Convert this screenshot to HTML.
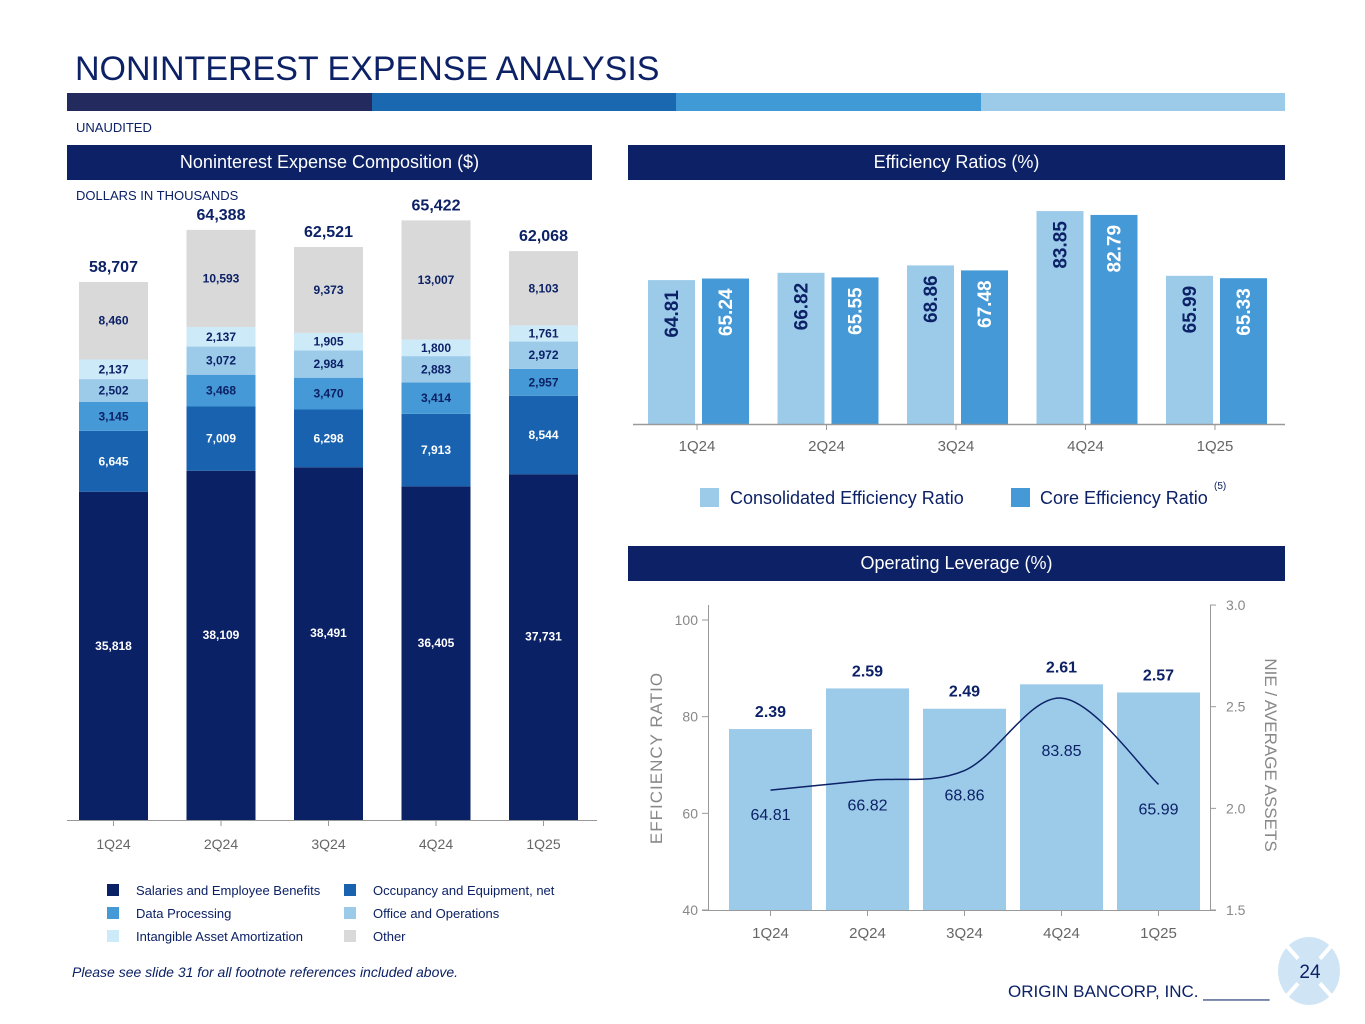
<!DOCTYPE html>
<html><head><meta charset="utf-8">
<style>
body{margin:0;width:1365px;height:1024px;background:#fff;font-family:"Liberation Sans",Arial,sans-serif;overflow:hidden;position:relative}
.abs{position:absolute}
.hdr{position:absolute;height:35px;background:#0c2166;color:#fff;font-size:18px;line-height:35px;text-align:center}
</style></head><body>
<div class="abs" style="left:75px;top:50px;font-size:34px;color:#0c2166">NONINTEREST EXPENSE ANALYSIS</div>
<div class="abs" style="left:67px;top:93px;width:1218px;height:18px;display:flex">
<div style="flex:1;background:#232a5e"></div><div style="flex:1;background:#1a68b0"></div><div style="flex:1;background:#3f9ad6"></div><div style="flex:1;background:#9ccbea"></div></div>
<div class="abs" style="left:76px;top:120px;font-size:13px;color:#0c2166">UNAUDITED</div>
<div class="hdr" style="left:67px;top:145px;width:525px">Noninterest Expense Composition ($)</div>
<div class="hdr" style="left:628px;top:145px;width:657px">Efficiency Ratios (%)</div>
<div class="hdr" style="left:628px;top:546px;width:657px">Operating Leverage (%)</div>
<div class="abs" style="left:76px;top:188px;font-size:13px;color:#0c2166">DOLLARS IN THOUSANDS</div>
<div class="abs" style="left:72px;top:964px;font-size:14px;font-style:italic;color:#0c2166">Please see slide 31 for all footnote references included above.</div>
<div class="abs" style="left:1008px;top:982px;font-size:17px;color:#0c2166">ORIGIN BANCORP, INC. _______</div>
<svg class="abs" style="left:1272px;top:935px" width="75" height="72"><ellipse cx="37" cy="36" rx="31" ry="34" fill="#cfe5f5"/><line x1="14" y1="10" x2="60" y2="62" stroke="#fff" stroke-width="4"/><line x1="60" y1="10" x2="14" y2="62" stroke="#fff" stroke-width="4"/><ellipse cx="37" cy="36" rx="16" ry="17" fill="#cfe5f5"/><text x="38" y="43" text-anchor="middle" font-size="19" fill="#0c2166" font-family="Liberation Sans">24</text></svg>

<svg id="c1" class="abs" style="left:0;top:0" width="1365" height="1024"></svg>

<script>
const quarters=['1Q24','2Q24','3Q24','4Q24','1Q25'];
const salaries=[35818,38109,38491,36405,37731];
const occupancy=[6645,7009,6298,7913,8544];
const dataProc=[3145,3468,3470,3414,2957];
const office=[2502,3072,2984,2883,2972];
const intangible=[2137,2137,1905,1800,1761];
const other=[8460,10593,9373,13007,8103];
const totals=[58707,64388,62521,65422,62068];
const consEff=[64.81,66.82,68.86,83.85,65.99];
const coreEff=[65.24,65.55,67.48,82.79,65.33];
const nieAssets=[2.39,2.59,2.49,2.61,2.57];
const effTicks=[40,60,80,100];
const nieTicks=['1.5','2.0','2.5','3.0'];

const NS='http://www.w3.org/2000/svg';
const svg=document.getElementById('c1');
function mk(tag,attrs,parent){const e=document.createElementNS(NS,tag);for(const k in attrs)e.setAttribute(k,attrs[k]);(parent||svg).appendChild(e);return e;}
function txt(x,y,s,attrs){const t=mk('text',Object.assign({x:x,y:y,'font-family':'Liberation Sans, Arial, sans-serif'},attrs));t.textContent=s;return t;}

// ---- Chart 1: stacked
const y1=v=>820-v*0.009165;
const x1=i=>113.5+i*107.5;
const series=[salaries,occupancy,dataProc,office,intangible,other];
const sNames=['salaries','occupancy','data-processing','office','intangible','other'];
const colors=['#0a2166','#1862b0','#4499d6','#9ccbea','#cdeaf9','#d9d9d9'];
const lblCol=['#fff','#fff','#0c2166','#0c2166','#0c2166','#0c2166'];
mk('line',{x1:67,y1:820.5,x2:597,y2:820.5,stroke:'#999','stroke-width':1});
quarters.forEach((q,i)=>{
  let cum=0;
  series.forEach((s,k)=>{
    const v=s[i];const top=y1(cum+v),bot=y1(cum);
    const r=mk('rect',{x:x1(i)-34.5,y:top,width:69,height:bot-top,fill:colors[k]});
    
    
    let ly=(top+bot)/2+4;
    if(k===0) ly=y1(cum+v*0.53)+4;
    txt(x1(i),ly,s[i].toLocaleString('en-US'),{'text-anchor':'middle','font-size':12,'font-weight':'bold',fill:lblCol[k]});
    cum+=v;
  });
  const t=txt(x1(i),y1(totals[i])-10,totals[i].toLocaleString('en-US'),{'text-anchor':'middle','font-size':16,'font-weight':'bold',fill:'#0c2166'});
  
  
  mk('line',{x1:x1(i),y1:820,x2:x1(i),y2:826,stroke:'#999'});
  txt(x1(i),849,q,{'text-anchor':'middle','font-size':14,fill:'#666'});
});
const legItems=[['Salaries and Employee Benefits',0,107,890],['Occupancy and Equipment, net',1,344,890],['Data Processing',2,107,913],['Office and Operations',3,344,913],['Intangible Asset Amortization',4,107,936],['Other',5,344,936]];
legItems.forEach(l=>{
  const r=mk('rect',{x:l[2],y:l[3]-6,width:12,height:12,fill:colors[l[1]]});
  
  
  txt(l[2]+29,l[3]+5,l[0],{'font-size':13,fill:'#0c2166'});
});

// ---- Chart 2: efficiency
const y2=v=>424-(v-25.1)*3.624;
const x2=i=>697+i*129.5;
quarters.forEach((q,i)=>{
  const a=mk('rect',{x:x2(i)-49,y:y2(consEff[i]),width:47,height:424-y2(consEff[i]),fill:'#9ccbea'});
  
  
  const b=mk('rect',{x:x2(i)+5,y:y2(coreEff[i]),width:47,height:424-y2(coreEff[i]),fill:'#4499d6'});
  
  
  const ta=y2(consEff[i])+10, tb=y2(coreEff[i])+10;
  txt(0,0,consEff[i].toFixed(2),{'text-anchor':'end','font-size':19,'font-weight':'bold',fill:'#0c2166',transform:`translate(${x2(i)-19},${ta}) rotate(-90)`});
  txt(0,0,coreEff[i].toFixed(2),{'text-anchor':'end','font-size':19,'font-weight':'bold',fill:'#fff',transform:`translate(${x2(i)+35},${tb}) rotate(-90)`});
  mk('line',{x1:x2(i),y1:424,x2:x2(i),y2:430,stroke:'#999'});
  txt(x2(i),451,q,{'text-anchor':'middle','font-size':15,fill:'#666'});
});
mk('line',{x1:633,y1:424.5,x2:1285,y2:424.5,stroke:'#999','stroke-width':1.5});
mk('rect',{x:700,y:488,width:19,height:19,fill:'#9ccbea'});
txt(730,504,'Consolidated Efficiency Ratio',{'font-size':18,fill:'#0c2166'});
mk('rect',{x:1011,y:488,width:19,height:19,fill:'#4499d6'});
txt(1040,504,'Core Efficiency Ratio',{'font-size':18,fill:'#0c2166'});
txt(1214,489,'(5)',{'font-size':10,fill:'#0c2166'});

// ---- Chart 3: operating leverage
const yL=v=>910-(v-40)*4.833;
const yR=v=>910-(v-1.5)*203.3;
const x3=i=>770.5+i*97;
quarters.forEach((q,i)=>{
  const r=mk('rect',{x:x3(i)-41.5,y:yR(nieAssets[i]),width:83,height:910-yR(nieAssets[i]),fill:'#9ccbea'});
  
  
  txt(x3(i),yR(nieAssets[i])-12,nieAssets[i].toFixed(2),{'text-anchor':'middle','font-size':16,'font-weight':'bold',fill:'#0c2166'});
  const ly = i===3 ? yL(consEff[i])+58 : yL(consEff[i])+30;
  txt(x3(i),ly,consEff[i].toFixed(2),{'text-anchor':'middle','font-size':16,fill:'#0c2166'});
  mk('line',{x1:x3(i),y1:910,x2:x3(i),y2:916,stroke:'#999'});
  txt(x3(i),938,q,{'text-anchor':'middle','font-size':15,fill:'#666'});
});
const pts=consEff.map((v,i)=>[x3(i),yL(v)]);
let d='M'+pts[0][0]+','+pts[0][1];
for(let i=0;i<pts.length-1;i++){
  const p0=pts[Math.max(0,i-1)],p1=pts[i],p2=pts[i+1],p3=pts[Math.min(pts.length-1,i+2)];
  const c1=[p1[0]+(p2[0]-p0[0])/6,p1[1]+(p2[1]-p0[1])/6],c2=[p2[0]-(p3[0]-p1[0])/6,p2[1]-(p3[1]-p1[1])/6];
  d+=` C${c1[0]},${c1[1]} ${c2[0]},${c2[1]} ${p2[0]},${p2[1]}`;
}
const ln=mk('path',{d:d,fill:'none',stroke:'#0c2166','stroke-width':1.5});


mk('line',{x1:708.5,y1:605,x2:708.5,y2:910,stroke:'#999'});
mk('line',{x1:1210.5,y1:605,x2:1210.5,y2:910,stroke:'#999'});
mk('line',{x1:702,y1:910.5,x2:1216,y2:910.5,stroke:'#999'});
effTicks.forEach(t=>{mk('line',{x1:702,y1:yL(t),x2:708,y2:yL(t),stroke:'#999'});txt(698,yL(t)+5,String(t),{'text-anchor':'end','font-size':14,fill:'#888'});});
nieTicks.forEach(t=>{mk('line',{x1:1210,y1:yR(+t),x2:1216,y2:yR(+t),stroke:'#999'});txt(1226,yR(+t)+5,t,{'font-size':14,fill:'#888'});});
txt(0,0,'EFFICIENCY RATIO',{'text-anchor':'middle','font-size':17,fill:'#888','letter-spacing':'1',transform:'translate(662,758) rotate(-90)'});
txt(0,0,'NIE / AVERAGE ASSETS',{'text-anchor':'middle','font-size':17,fill:'#888',transform:'translate(1265,755) rotate(90)'});
</script>
</body></html>
